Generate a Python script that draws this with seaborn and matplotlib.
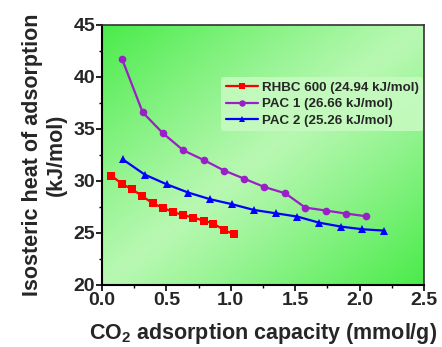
import numpy as np
import pandas as pd
import matplotlib
matplotlib.use("Agg")
import matplotlib.pyplot as plt
import seaborn as sns
from matplotlib.colors import to_rgb

# ---- data ----
rhbc_x = [0.072, 0.155, 0.232, 0.310, 0.392, 0.470, 0.547, 0.627, 0.708, 0.788, 0.865, 0.945, 1.025]
rhbc_y = [30.51, 29.71, 29.20, 28.56, 27.85, 27.44, 27.02, 26.73, 26.47, 26.19, 25.90, 25.29, 24.87]
pac1_x = [0.155, 0.315, 0.473, 0.630, 0.788, 0.948, 1.103, 1.260, 1.423, 1.578, 1.738, 1.895, 2.053]
pac1_y = [41.73, 36.60, 34.58, 32.95, 32.02, 31.00, 30.22, 29.42, 28.81, 27.44, 27.15, 26.86, 26.60]
pac2_x = [0.160, 0.331, 0.501, 0.669, 0.839, 1.010, 1.178, 1.348, 1.516, 1.684, 1.854, 2.022, 2.193]
pac2_y = [32.08, 30.61, 29.68, 28.88, 28.24, 27.76, 27.21, 26.89, 26.57, 25.99, 25.61, 25.35, 25.22]
labels = ["RHBC 600 (24.94 kJ/mol)", "PAC 1 (26.66 kJ/mol)", "PAC 2 (25.26 kJ/mol)"]
x_ticks = [0.0, 0.5, 1.0, 1.5, 2.0, 2.5]
y_ticks = [20, 25, 30, 35, 40, 45]

df = pd.concat([
    pd.DataFrame({"x": rhbc_x, "y": rhbc_y, "s": labels[0]}),
    pd.DataFrame({"x": pac1_x, "y": pac1_y, "s": labels[1]}),
    pd.DataFrame({"x": pac2_x, "y": pac2_y, "s": labels[2]}),
], ignore_index=True)

sns.set_style("ticks")
plt.rcParams["font.family"] = ["Liberation Sans", "DejaVu Sans"]
plt.rcParams["font.weight"] = "bold"
plt.rcParams["mathtext.fontset"] = "custom"
plt.rcParams["mathtext.rm"] = "Liberation Sans:bold"
plt.rcParams["mathtext.bf"] = "Liberation Sans:bold"

fig = plt.figure(figsize=(4.42, 3.47), dpi=100)
ax = fig.add_axes([0.231, 0.179, 0.728, 0.749])

# gradient background
nx, ny = 300, 240
gx = np.linspace(0, 1, nx)
gy = np.linspace(0, 1, ny)  # from top
GX, GY = np.meshgrid(gx, gy)
t = (GX + GY) / 2.0
m = np.abs(t - 0.5) * 2.0
m = np.clip(m, 0, 1) ** 1.1
c_edge = np.array(to_rgb("#4aeb4a"))
c_mid = np.array(to_rgb("#b8f8b2"))
img = c_mid[None, None, :] * (1 - m[..., None]) + c_edge[None, None, :] * m[..., None]
ax.imshow(img, extent=[0, 2.5, 20, 45], origin="upper", aspect="auto", zorder=0)

palette = {labels[0]: "#ff0000", labels[1]: "#9b1fc6", labels[2]: "#0000ff"}
markers = {labels[0]: "s", labels[1]: "o", labels[2]: "^"}
sns.lineplot(data=df, x="x", y="y", hue="s", style="s", palette=palette,
             markers=markers, dashes=False, sort=False, linewidth=1.6,
             markersize=5.5, markeredgewidth=0, ax=ax, zorder=3)

ax.set_xlim(0, 2.5)
ax.set_ylim(20, 45)
ax.set_xticks(x_ticks)
ax.set_yticks(y_ticks)
ax.set_xticklabels([f"{v:.1f}" for v in x_ticks], fontsize=14, fontweight="bold")
ax.set_yticklabels([str(v) for v in y_ticks], fontsize=14, fontweight="bold")
ax.set_xticks(np.arange(0.25, 2.5, 0.5), minor=True)
ax.set_yticks(np.arange(22.5, 45, 5), minor=True)
ax.tick_params(axis="both", which="major", direction="out", length=4, width=1.2, pad=1, color="black")
ax.tick_params(axis="both", which="minor", direction="out", length=2.5, width=1.0, color="black")
ax.tick_params(top=False, right=False)

for side in ["left", "bottom"]:
    ax.spines[side].set_linewidth(1.5)
    ax.spines[side].set_color("black")
for side in ["top", "right"]:
    ax.spines[side].set_linewidth(1.2)
    ax.spines[side].set_color("#333333")

ax.set_xlabel(r"CO$_\mathbf{2}$ adsorption capacity (mmol/g)", fontsize=15.5,
              fontweight="bold", labelpad=9)
ax.set_ylabel("Isosteric heat of adsorption\n(kJ/mol)", fontsize=15.5,
              fontweight="bold", labelpad=5, linespacing=1.15)

leg = ax.legend(loc="upper left", bbox_to_anchor=(0.37, 0.80), fontsize=9.6,
                frameon=True, handlelength=2.4, handletextpad=0.3,
                borderpad=0.35, labelspacing=0.3, borderaxespad=0,
                markerscale=0.85)
leg.get_frame().set_facecolor("#c6fac0")
leg.get_frame().set_edgecolor("none")
leg.get_frame().set_alpha(0.9)
for txt in leg.get_texts():
    txt.set_fontweight("bold")

fig.savefig("out.png", dpi=100)
